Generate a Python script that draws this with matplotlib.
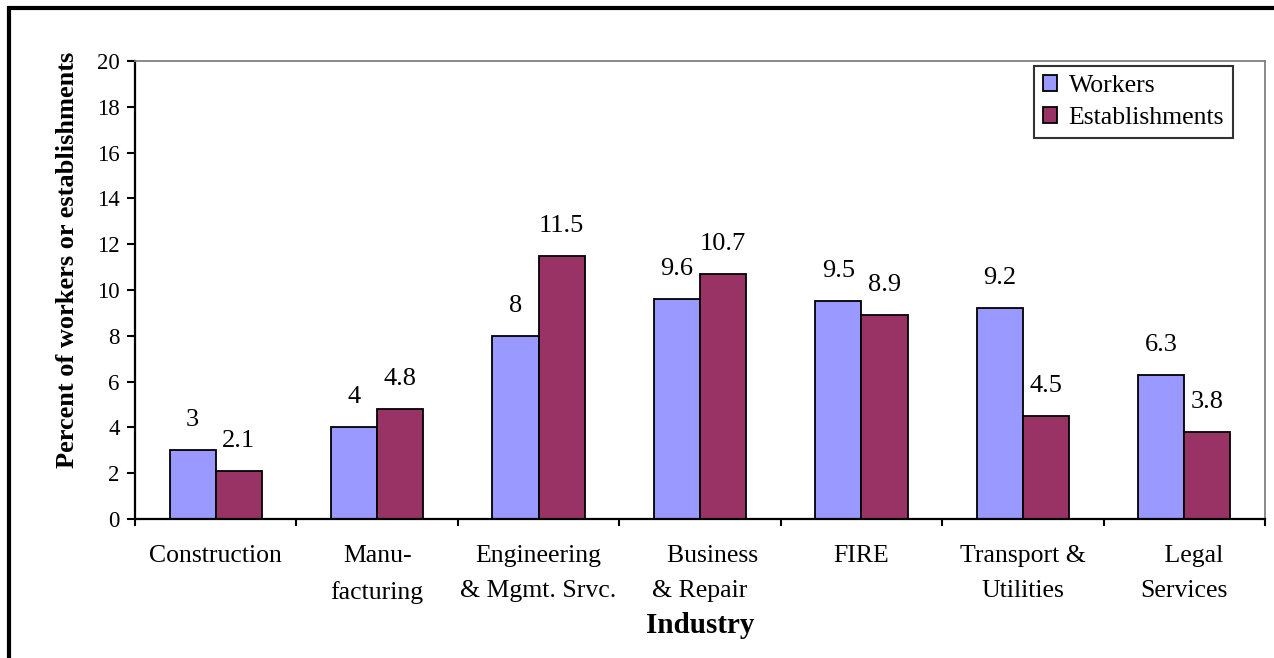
import matplotlib
matplotlib.use("Agg")
import matplotlib.pyplot as plt
from matplotlib.lines import Line2D
import numpy as np

categories = ["Construction", "Manu-\nfacturing", "Engineering\n& Mgmt. Srvc.",
              "    Business\n& Repair", "FIRE", "Transport &\nUtilities", "   Legal\nServices"]
workers = [3, 4, 8, 9.6, 9.5, 9.2, 6.3]
establishments = [2.1, 4.8, 11.5, 10.7, 8.9, 4.5, 3.8]
worker_labels = ["3", "4", "8", "9.6", "9.5", "9.2", "6.3"]
estab_labels = ["2.1", "4.8", "11.5", "10.7", "8.9", "4.5", "3.8"]
yticks = [0, 2, 4, 6, 8, 10, 12, 14, 16, 18, 20]

plt.rcParams['font.family'] = ['Liberation Serif', 'DejaVu Serif']

W, H = 1274, 658
fig = plt.figure(figsize=(W / 100, H / 100), dpi=100)
ax = fig.add_axes([135 / W, 1 - 519 / H, (1265 - 135) / W, (519 - 61) / H])

x = np.arange(len(categories))
bw = 0.2857
b1 = ax.bar(x - bw / 2, workers, bw, color="#9999FF", edgecolor="black", linewidth=1.3, label="Workers")
b2 = ax.bar(x + bw / 2, establishments, bw, color="#993366", edgecolor="black", linewidth=1.3, label="Establishments")

for rects, labs in ((b1, worker_labels), (b2, estab_labels)):
    for r, lab in zip(rects, labs):
        ax.annotate(lab, (r.get_x() + r.get_width() / 2, r.get_height()),
                    xytext=(0, 30), textcoords="offset pixels",
                    ha="center", va="center", fontsize=19)

ax.set_xlim(-0.5, len(categories) - 0.5)
ax.set_ylim(0, 20)
ax.set_yticks(yticks)
ax.set_yticklabels([str(t) for t in yticks], fontsize=16.5)
ax.tick_params(axis="y", direction="out", length=6, width=1.5, pad=5)

ax.set_xticks(x)
ax.set_xticklabels(categories, fontsize=18.5, linespacing=1.75, va="top")
ax.tick_params(axis="x", which="major", length=0, pad=19)
ax.set_xticks(np.arange(len(categories) + 1) - 0.5, minor=True)
ax.tick_params(axis="x", which="minor", direction="out", length=5, width=1.5)

for s in ("left", "bottom"):
    ax.spines[s].set_color("black")
    ax.spines[s].set_linewidth(1.6)
for s in ("top", "right"):
    ax.spines[s].set_color("#808080")
    ax.spines[s].set_linewidth(1.3)

fig.text(68 / W, 1 - 260 / H, "Percent of workers or establishments", rotation=90,
         ha="center", va="center", fontsize=19, fontweight="bold")
fig.text(700 / W, 1 - 633 / H, "Industry", ha="center", va="baseline",
         fontsize=21, fontweight="bold")

leg = ax.legend(loc="upper right", bbox_to_anchor=(1233 / W, 1 - 66 / H),
                bbox_transform=fig.transFigure, fontsize=18.5, frameon=True,
                fancybox=False, handlelength=0.55, handleheight=0.55,
                handletextpad=0.45, borderpad=0.35, labelspacing=0.4,
                borderaxespad=0)
leg.get_frame().set_edgecolor("black")
leg.get_frame().set_linewidth(1.5)

# figure frame (top and left)
fig.add_artist(Line2D([7 / W, 1.0], [1 - 8 / H, 1 - 8 / H], transform=fig.transFigure,
                      color="black", linewidth=3.0, solid_capstyle="butt"))
fig.add_artist(Line2D([9 / W, 9 / W], [0, 1 - 6 / H], transform=fig.transFigure,
                      color="black", linewidth=3.0, solid_capstyle="butt"))

fig.savefig("out.png", dpi=100)
